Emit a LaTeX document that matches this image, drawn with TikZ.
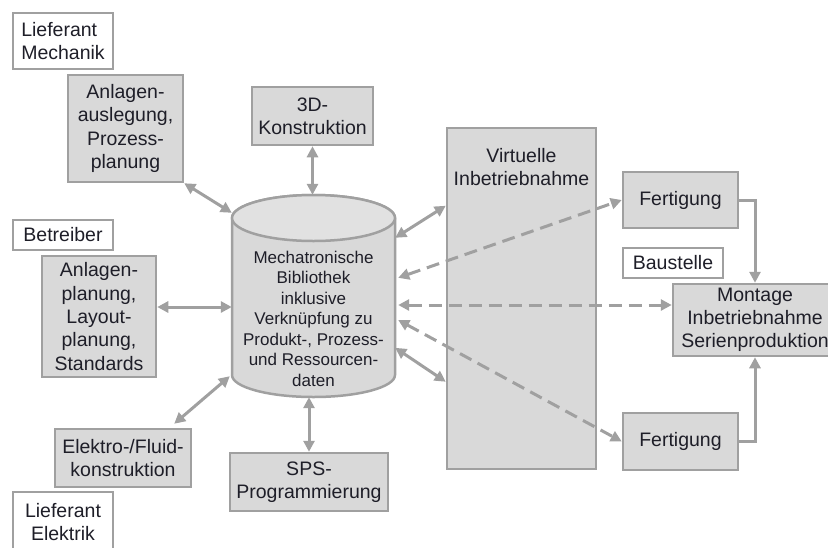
\documentclass[tikz,border=0pt]{standalone}
\usepackage{fontspec}
\setmainfont{Liberation Sans}
\usetikzlibrary{
  calc,        % offsets on the cylinder
  arrows.meta  % Triangle tips
}

\definecolor{boxgray}{HTML}{D9D9D9}
\definecolor{linegray}{HTML}{A0A0A0}
\definecolor{txtdark}{HTML}{1E1E28}

\newcommand{\bigfont}{\fontsize{19.5}{23.3}\selectfont}
\newcommand{\libfont}{\fontsize{17}{20.5}\selectfont}

\begin{document}
\begin{tikzpicture}[x=1pt, y=-1pt,
    blk/.style={draw=linegray, line width=2.5pt, fill=boxgray, text=txtdark,
      align=center, font=\bigfont, inner sep=0pt},
    role/.style={blk, fill=white},
    link/.style={draw=linegray, line width=3pt,
      {Triangle[length=11pt,width=11pt]}-{Triangle[length=11pt,width=11pt]}},
    vlink/.style={link, dash pattern=on 13pt off 7pt},
    flow/.style={draw=linegray, line width=3pt, -{Triangle[length=11pt,width=11pt]}}]
  \useasboundingbox (0,0) rectangle (828,547);
  \clip (0,0) rectangle (828,547);

  % left side
  \node[role, align=left, minimum width=100pt, minimum height=56pt] (lmech) at (63,41) {Lieferant\\Mechanik};
  \node[blk, minimum width=115pt, minimum height=107pt] (ausl) at (125.5,128.5) {Anlagen-\\auslegung,\\Prozess-\\planung};
  \node[role, minimum width=100pt, minimum height=30pt] (betr) at (63,235) {Betreiber};
  \node[blk, minimum width=114pt, minimum height=121pt] (plan) at (99,316.5) {Anlagen-\\planung,\\Layout-\\planung,\\Standards};
  \node[blk, minimum width=136pt, minimum height=58pt] (elek) at (123,458) {Elektro-/Fluid-\\konstruktion};
  \node[role, minimum width=100pt, minimum height=60pt] (lelek) at (63,522) {Lieferant\\Elektrik};

  % middle
  \node[blk, minimum width=121pt, minimum height=58pt] (k3d) at (312.5,116) {3D-\\Konstruktion};
  \node[blk, minimum width=158pt, minimum height=58pt] (sps) at (309,482) {SPS-\\Programmierung};

  % cylinder
  \draw[draw=linegray, line width=2.5pt, fill=boxgray]
    (232,218) -- (232,375) arc[start angle=180, end angle=0, x radius=81.5, y radius=22]
    -- (395,218) arc[start angle=0, end angle=-180, x radius=81.5, y radius=23] -- cycle;
  \draw[draw=linegray, line width=2.5pt, fill=boxgray!80!white]
    (313.5,218) ellipse[x radius=81.5, y radius=23];
  \node[minimum width=163pt, minimum height=202pt, inner sep=0pt] (lib) at (313.5,296) {};
  \node[align=center, text=txtdark, font=\libfont, inner sep=0pt] (libtext) at ($(lib.center)+(0,22.5)$)
    {Mechatronische\\Bibliothek\\inklusive\\Verkn\"upfung zu\\Produkt-, Prozess-\\und Ressourcen-\\daten};

  % right side
  \node[blk, minimum width=149pt, minimum height=341pt] (virt) at (521.5,298.5) {};
  \node[align=center, text=txtdark, font=\bigfont, inner sep=0pt] (virttext) at ($(virt.north)+(0,40)$)
    {Virtuelle\\Inbetriebnahme};
  \node[blk, minimum width=115pt, minimum height=56pt] (fert1) at (680.5,200) {Fertigung};
  \node[role, minimum width=100pt, minimum height=30pt] (baust) at (673,263) {Baustelle};
  \node[blk, minimum width=164pt, minimum height=72pt] (mont) at (755,320) {Montage\\Inbetriebnahme\\Serienproduktion};
  \node[blk, minimum width=115pt, minimum height=57pt] (fert2) at (680.5,441.5) {Fertigung};

  % connectors
  \draw[link] (ausl.south east) -- ($(lib.north west)+(0,18)$);
  \draw[link] (k3d.south) -- (k3d.south |- lib.north);
  \draw[link] (plan.east |- 0,307) -- (lib.west |- 0,307);
  \draw[link] ($(elek.north east)+(-18,-4)$) -- ($(lib.south west)+(-2,-21)$);
  \draw[link] (sps.north) -- (sps.north |- lib.south);
  \draw[link] ($(lib.north east)+(0,43)$) -- ($(virt.north west)+(0,79)$);
  \draw[link] ($(lib.north east)+(0,153)$) -- ($(virt.north west)+(0,255)$);

  \draw[vlink] ($(lib.north east)+(3,83)$) -- (fert1.west);
  \draw[vlink] ($(lib.east)+(3,9)$) coordinate (dmid) -- (dmid -| mont.west);
  \draw[vlink] ($(lib.east)+(3,24)$) -- (fert2.west);

  \draw[flow] (fert1.east) -| (mont.north);
  \draw[flow] (fert2.east) -| (mont.south);
\end{tikzpicture}
\end{document}
